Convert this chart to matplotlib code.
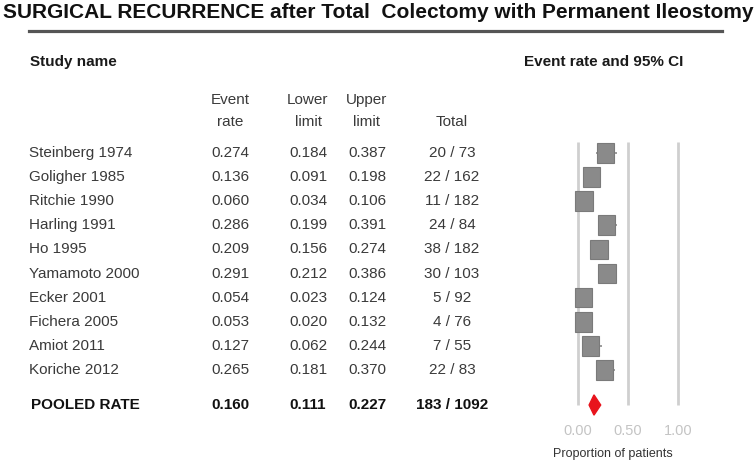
import matplotlib
matplotlib.use("Agg")
import matplotlib.pyplot as plt
from matplotlib.lines import Line2D
from matplotlib.patches import Rectangle
from matplotlib.transforms import blended_transform_factory

plt.rcParams["font.family"] = ["Liberation Sans", "DejaVu Sans"]

studies = ["Steinberg 1974", "Goligher 1985", "Ritchie 1990", "Harling 1991",
           "Ho 1995", "Yamamoto 2000", "Ecker 2001", "Fichera 2005",
           "Amiot 2011", "Koriche 2012"]
event_rate = [0.274, 0.136, 0.060, 0.286, 0.209, 0.291, 0.054, 0.053, 0.127, 0.265]
lower = [0.184, 0.091, 0.034, 0.199, 0.156, 0.212, 0.023, 0.020, 0.062, 0.181]
upper = [0.387, 0.198, 0.106, 0.391, 0.274, 0.386, 0.124, 0.132, 0.244, 0.370]
events = [20, 22, 11, 24, 38, 30, 5, 4, 7, 22]
totals = [73, 162, 182, 84, 182, 103, 92, 76, 55, 83]

pooled_rate, pooled_lower, pooled_upper = 0.160, 0.111, 0.227
pooled_events, pooled_total = 183, 1092

x_ticks = [0.0, 0.5, 1.0]
x_ticklabels = ["0.00", "0.50", "1.00"]

W, H = 754, 467
fig = plt.figure(figsize=(W / 100, H / 100), dpi=100)

# forest axes: 0 -> 578px, 1 -> 678px ; rows 24.1px apart starting at 153px
left_px, right_px, top_px, bot_px = 560, 700, 130, 418
ax = fig.add_axes([left_px / W, 1 - bot_px / H,
                   (right_px - left_px) / W, (bot_px - top_px) / H])
ax.set_xlim((left_px - 578) / 100, (right_px - 578) / 100)
row_h = 24.1
ax.set_ylim((bot_px - 153) / row_h, (top_px - 153) / row_h)
pooled_y = (405 - 153) / row_h

ax.vlines(x_ticks, -0.46, pooled_y + 0.02, color="#cfcfcf", lw=2, zorder=1)

ys = list(range(len(studies)))
ax.hlines(ys, lower, upper, color="#8a8a8a", lw=1.2, zorder=2)
box_w, box_h = 0.175, 0.82
for y, r in zip(ys, event_rate):
    ax.add_patch(Rectangle((r - box_w / 2, y - box_h / 2), box_w, box_h,
                           facecolor="#8a8a8a", edgecolor="#7a7a7a", lw=0.8,
                           zorder=3))

ax.fill([pooled_lower, pooled_rate, pooled_upper, pooled_rate],
        [pooled_y, pooled_y - 0.42, pooled_y, pooled_y + 0.42],
        color="#e8141c", zorder=4)

ax.set_xticks(x_ticks)
ax.set_xticklabels(x_ticklabels, fontsize=10.5, color="#c4c4c4")
ax.tick_params(axis="x", length=0, pad=4)
ax.set_yticks([])
for s in ax.spines.values():
    s.set_visible(False)
ax.set_xlabel("Proportion of patients", fontsize=9, color="#333333")
ax.xaxis.set_label_coords((613 - left_px) / (right_px - left_px), -0.105)

# table text, aligned to the rows of the forest axes
tr = blended_transform_factory(fig.transFigure, ax.transData)
col_rate, col_lo, col_hi, col_tot = 230 / W, 308 / W, 367 / W, 452 / W
txt = dict(transform=tr, fontsize=11, color="#3a3a3a", va="center")
for y, name, r, lo, hi, e, n in zip(ys, studies, event_rate, lower, upper,
                                     events, totals):
    ax.text(29 / W, y, name, ha="left", **txt)
    ax.text(col_rate, y, f"{r:.3f}", ha="center", **txt)
    ax.text(col_lo, y, f"{lo:.3f}", ha="center", **txt)
    ax.text(col_hi, y, f"{hi:.3f}", ha="center", **txt)
    ax.text(col_tot, y, f"{e} / {n}", ha="center", **txt)

bold = dict(transform=tr, fontsize=11, color="#111111", va="center",
            fontweight="bold")
ax.text(31 / W, pooled_y, "POOLED RATE", ha="left", **bold)
ax.text(col_rate, pooled_y, f"{pooled_rate:.3f}", ha="center", **bold)
ax.text(col_lo, pooled_y, f"{pooled_lower:.3f}", ha="center", **bold)
ax.text(col_hi, pooled_y, f"{pooled_upper:.3f}", ha="center", **bold)
ax.text(col_tot, pooled_y, f"{pooled_events} / {pooled_total}", ha="center", **bold)

# headers
hdr = dict(fontsize=11, color="#3a3a3a", ha="center", va="center")
fig.text(col_rate, 1 - 100 / H, "Event", **hdr)
fig.text(col_rate, 1 - 122 / H, "rate", **hdr)
fig.text(col_lo, 1 - 100 / H, "Lower", **hdr)
fig.text(col_lo, 1 - 122 / H, "limit", **hdr)
fig.text(col_hi, 1 - 100 / H, "Upper", **hdr)
fig.text(col_hi, 1 - 122 / H, "limit", **hdr)
fig.text(col_tot, 1 - 122 / H, "Total", **hdr)

fig.text(30 / W, 1 - 62 / H, "Study name", fontsize=11, fontweight="bold",
         color="#1a1a1a", ha="left", va="center")
fig.text(604 / W, 1 - 62 / H, "Event rate and 95% CI", fontsize=11,
         fontweight="bold", color="#1a1a1a", ha="center", va="center")

# title: shrink font until it spans ~745px like the reference
title = fig.text(3 / W, 1 - 12 / H,
                 "SURGICAL RECURRENCE after Total  Colectomy with Permanent Ileostomy",
                 fontsize=16.5, fontweight="bold", color="#111111",
                 ha="left", va="center")
renderer = fig.canvas.get_renderer()
tw = title.get_window_extent(renderer).width
title.set_fontsize(16.5 * 745 / tw)

fig.add_artist(Line2D([29 / W, 722 / W], [1 - 30.5 / H, 1 - 30.5 / H],
                      transform=fig.transFigure, color="#555555", lw=2.3))

fig.savefig("out.png", dpi=100)
